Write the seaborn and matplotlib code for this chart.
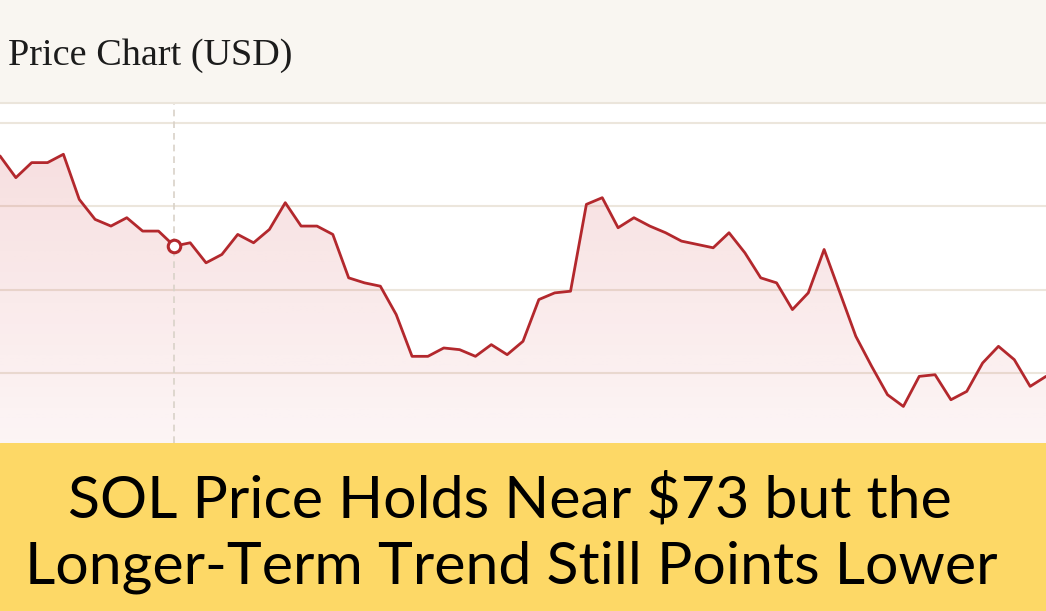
import seaborn as sns
import matplotlib.pyplot as plt
import matplotlib.patches as mpatches
import matplotlib.lines as mlines
import numpy as np
import pandas as pd

# price series (USD)
prices = [88.0, 86.7, 87.6, 87.6, 88.1, 85.4, 84.2, 83.8, 84.3, 83.5,
          83.5, 82.6, 82.8, 81.6, 82.1, 83.3, 82.8, 83.6, 85.2, 83.8,
          83.8, 83.3, 80.7, 80.4, 80.2, 78.5, 76.0, 76.0, 76.5, 76.4,
          76.0, 76.7, 76.1, 76.9, 79.4, 79.8, 79.9, 85.1, 85.5, 83.7,
          84.3, 83.8, 83.4, 82.9, 82.7, 82.5, 83.4, 82.2, 80.7, 80.4,
          78.8, 79.8, 82.4, 79.8, 77.2, 75.4, 73.7, 73.0, 74.8, 74.9,
          73.4, 73.9, 75.6, 76.6, 75.8, 74.2, 74.8]
days = list(range(len(prices)))
grid_levels = [75, 80, 85, 90]
hover_day = 11

title = "Price Chart (USD)"
caption = ["SOL Price Holds Near $73 but the",
           "Longer-Term Trend Still Points Lower"]

df = pd.DataFrame({"day": days, "price": prices})

sns.set_style("white")
LINE = "#b3282d"
XLIM = (0, 66)
YLIM = (70.81, 91.17)

fig = plt.figure(figsize=(10.46, 6.11), dpi=100)
fig.patch.set_facecolor("white")

# header + caption band
fig.add_artist(mpatches.Rectangle((0, 1 - 102 / 611), 1, 102 / 611,
                                  transform=fig.transFigure, color="#f9f6f1", zorder=0))
fig.add_artist(mlines.Line2D([0, 1], [1 - 102.5 / 611] * 2, transform=fig.transFigure,
                             color="#ebe5db", lw=1.5, zorder=1))
fig.add_artist(mpatches.Rectangle((0, 0), 1, 168 / 611, transform=fig.transFigure,
                                  color="#fdd866", zorder=0))

ax = fig.add_axes([0, 168 / 611, 1, 340 / 611])
ax.set_facecolor("white")

for lv in grid_levels:
    ax.axhline(lv, color="#ece6dc", lw=1.5, zorder=1)

# gradient fill under the line
poly = ax.fill_between(df["day"], df["price"], 60, color="none", lw=0)
grad = np.zeros((100, 2, 4))
grad[..., 0] = 0.80
grad[..., 1] = 0.20
grad[..., 2] = 0.22
grad[..., 3] = np.linspace(0.05, 0.16, 100)[:, None]
img = ax.imshow(grad, extent=[XLIM[0], XLIM[1], YLIM[0], 88.5], origin="lower",
                aspect="auto", zorder=2)
img.set_clip_path(poly.get_paths()[0], transform=ax.transData)

ax.axvline(hover_day, color="#d9d2c8", lw=1.2, ls=(0, (4, 3)), zorder=2)

sns.lineplot(data=df, x="day", y="price", color=LINE, lw=2.0, ax=ax, zorder=3)
ax.plot(hover_day, prices[hover_day], "o", ms=9, mfc="white", mec=LINE, mew=2.2, zorder=4)

ax.set_xlim(*XLIM)
ax.set_ylim(*YLIM)
ax.set_xticks([])
ax.set_yticks([])
ax.set_xlabel("")
ax.set_ylabel("")
sns.despine(ax=ax, left=True, bottom=True)

fig.text(8 / 1046, 1 - 65 / 611, title, family="Liberation Serif", fontsize=27.5,
         color="#1c1c1c", va="baseline", ha="left")
fig.text(510 / 1046, 1 - 517 / 611, caption[0], family="Lato",
         fontsize=42.5, color="black", va="baseline", ha="center")
fig.text(511 / 1046, 1 - 584 / 611, caption[1], family="Lato",
         fontsize=42.5, color="black", va="baseline", ha="center")

fig.savefig("out.png", dpi=100)
plt.close(fig)
